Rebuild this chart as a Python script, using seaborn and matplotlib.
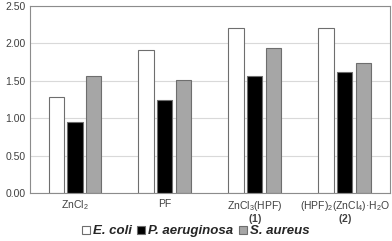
import matplotlib
matplotlib.use("Agg")
import matplotlib.pyplot as plt
import seaborn as sns
import pandas as pd

categories = ["ZnCl$_2$", "PF", "ZnCl$_3$(HPF)\n$\\mathbf{(1)}$",
              "(HPF)$_2$(ZnCl$_4$)·H$_2$O\n$\\mathbf{(2)}$"]
series = ["E. coli", "P. aeruginosa", "S. aureus"]
e_coli = [1.28, 1.91, 2.20, 2.21]
p_aeruginosa = [0.95, 1.25, 1.56, 1.62]
s_aureus = [1.57, 1.51, 1.94, 1.74]
yticks = [0.0, 0.5, 1.0, 1.5, 2.0, 2.5]

rows = []
for name, vals in zip(series, [e_coli, p_aeruginosa, s_aureus]):
    for c, v in zip(categories, vals):
        rows.append({"cat": c, "series": name, "value": v})
df = pd.DataFrame(rows)

sns.set_style("white")
plt.rcParams["font.family"] = ["Liberation Sans", "DejaVu Sans"]
plt.rcParams["mathtext.fontset"] = "custom"
plt.rcParams["mathtext.rm"] = "Liberation Sans"
plt.rcParams["mathtext.it"] = "Liberation Sans:italic"
plt.rcParams["mathtext.bf"] = "Liberation Sans:bold"

fig = plt.figure(figsize=(3.92, 2.41), dpi=100)
ax = fig.add_axes([0.0765, 0.199, 0.918, 0.776])

palette = {"E. coli": "#ffffff", "P. aeruginosa": "#000000", "S. aureus": "#a6a6a6"}
sns.barplot(data=df, x="cat", y="value", hue="series", order=categories,
            hue_order=series, palette=palette, width=0.63, gap=0.2,
            edgecolor="#6e6e6e", linewidth=0.8, ax=ax, legend=True)

ax.set_ylim(0, 2.5)
ax.set_yticks(yticks)
ax.set_yticklabels([f"{t:.2f}" for t in yticks])
ax.set_xlim(-0.5, 3.5)
ax.yaxis.grid(True, color="#d9d9d9", linewidth=0.8)
ax.set_axisbelow(True)
ax.set_xlabel("")
ax.set_ylabel("")
ax.tick_params(axis="both", length=0, labelsize=7.5, colors="#404040")
ax.tick_params(axis="x", pad=4)
ax.tick_params(axis="y", pad=3)
for lbl in ax.get_xticklabels():
    lbl.set_linespacing(0.95)
for s in ax.spines.values():
    s.set_visible(True)
    s.set_color("#8c8c8c")
    s.set_linewidth(0.8)

handles, labels = ax.get_legend_handles_labels()
ax.legend(handles, series, loc="center", bbox_to_anchor=(0.46, -0.205),
          ncol=3, frameon=False, handlelength=0.6, handleheight=0.6,
          handletextpad=0.25, columnspacing=0.4, borderpad=0.1,
          prop={"size": 9.5, "weight": "bold", "style": "italic"})

fig.savefig("out.png", dpi=100)
